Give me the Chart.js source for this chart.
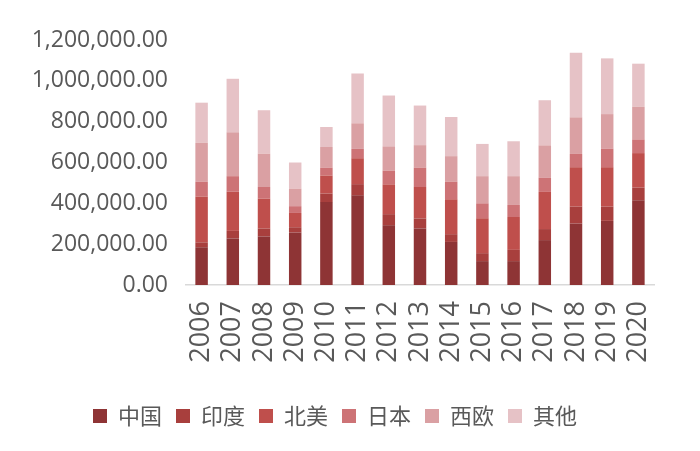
<!DOCTYPE html>
<html><head><meta charset="utf-8">
<script src="https://cdn.jsdelivr.net/npm/chart.js@4"></script>
<style>html,body{margin:0;padding:0;background:#fff}</style>
</head><body>
<canvas id="c" width="700" height="451"></canvas>
<script>
const years = ['2006','2007','2008','2009','2010','2011','2012','2013','2014','2015','2016','2017','2018','2019','2020'];
const seriesNames = ['中国','印度','北美','日本','西欧','其他'];
const china = [185000, 228000, 238000, 257000, 406000, 439000, 293000, 277000, 211000, 117000, 117000, 220000, 301000, 314000, 415000];
const india = [24000, 37000, 39000, 26000, 42000, 55000, 54000, 49000, 38000, 39000, 55000, 54000, 83000, 70000, 62000];
const northAmerica = [224000, 192000, 146000, 70000, 88000, 127000, 146000, 154000, 171000, 171000, 161000, 182000, 193000, 193000, 169000];
const japan = [73000, 76000, 57000, 33000, 39000, 46000, 67000, 95000, 86000, 73000, 59000, 70000, 65000, 91000, 67000];
const westEurope = [190000, 215000, 163000, 86000, 101000, 125000, 119000, 110000, 125000, 133000, 141000, 158000, 179000, 169000, 160000];
const others = [197000, 262000, 213000, 128000, 98000, 244000, 249000, 194000, 192000, 158000, 171000, 221000, 317000, 273000, 211000];
const yTicks = [0, 200000, 400000, 600000, 800000, 1000000, 1200000];

const colors = ['#8e3435','#a83f3d','#bf4f4c','#cd7376','#daa0a3','#e6c2c6'];
const values = [china, india, northAmerica, japan, westEurope, others];

new Chart(document.getElementById('c'), {
  type: 'bar',
  data: {
    labels: years,
    datasets: values.map((v, i) => ({
      label: seriesNames[i],
      data: v,
      backgroundColor: colors[i],
      borderWidth: 0,
      barPercentage: 0.8,
      categoryPercentage: 0.5
    }))
  },
  options: {
    responsive: false,
    animation: false,
    layout: { padding: { left: 16, right: 46, top: 40, bottom: 14 } },
    plugins: {
      legend: {
        position: 'bottom',
        labels: {
          boxWidth: 14, boxHeight: 14, padding: 14,
          color: '#595959',
          font: { family: '"Noto Sans CJK SC"', size: 22 }
        }
      },
      tooltip: { enabled: false }
    },
    scales: {
      x: {
        stacked: true,
        grid: { display: false, drawTicks: false },
        border: { display: true, color: '#d9d9d9', width: 1.5 },
        ticks: {
          autoSkip: false,
          minRotation: 90, maxRotation: 90, padding: 16,
          color: '#595959',
          font: { family: '"Open Sans"', size: 27 }
        },
        afterFit: s => { s.height = 106; }
      },
      y: {
        stacked: true,
        min: 0, max: 1200000,
        afterBuildTicks: s => { s.ticks = yTicks.map(v => ({ value: v })); },
        grid: { display: false, drawTicks: false },
        border: { display: false },
        ticks: {
          padding: 18,
          color: '#595959',
          font: { family: '"Open Sans"', size: 23 },
          callback: v => Number(v).toLocaleString('en-US', { minimumFractionDigits: 2, maximumFractionDigits: 2 })
        },
        afterFit: s => { s.width = 170; }
      }
    }
  }
});
</script>
</body></html>
